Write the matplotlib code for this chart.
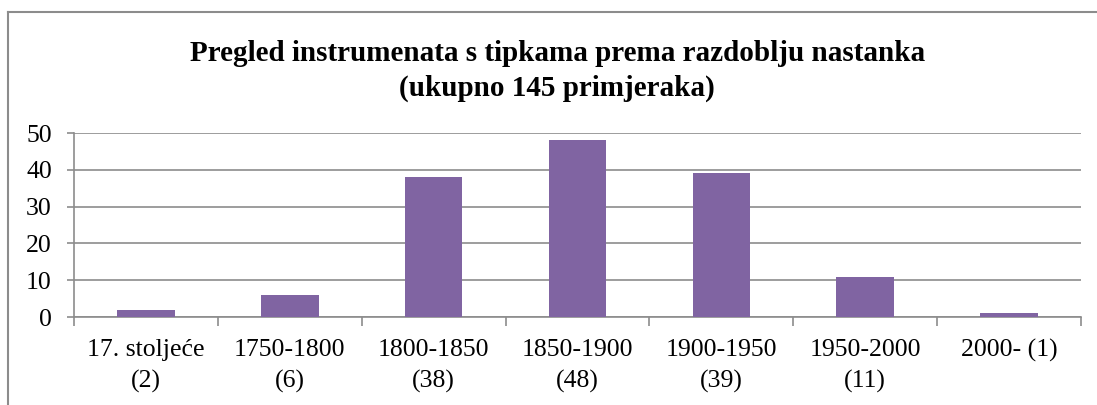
import matplotlib.pyplot as plt
from matplotlib.lines import Line2D

plt.rcParams['font.family'] = ['Liberation Serif', 'DejaVu Serif']

periods = ["17. stoljeće\n(2)", "1750-1800\n(6)", "1800-1850\n(38)", "1850-1900\n(48)",
           "1900-1950\n(39)", "1950-2000\n(11)", "2000- (1)"]
counts = [2, 6, 38, 48, 39, 11, 1]
yticks = [0, 10, 20, 30, 40, 50]

fig = plt.figure(figsize=(10.97, 4.05), dpi=100)
ax = fig.add_axes([74 / 1097, 1 - 317 / 405, (1081 - 74) / 1097, (317 - 133) / 405])

x = list(range(len(counts)))
ax.bar(x, counts, width=0.4, color="#8064A2", zorder=3)
ax.set_xlim(-0.5, len(counts) - 0.5)
ax.set_ylim(0, 50)
ax.set_yticks(yticks)
ax.set_yticklabels([str(v) for v in yticks], fontsize=18.5)
ax.yaxis.grid(True, color="#8c8c8c", linewidth=1.2, zorder=0)

# category labels centred, tick marks on the boundaries
ax.set_xticks(x)
ax.set_xticklabels(periods, fontsize=18.5, linespacing=1.5, va="top")
ax.tick_params(axis="x", which="major", length=0, pad=16)
ax.set_xticks([i - 0.5 for i in range(len(counts) + 1)], minor=True)
ax.tick_params(axis="x", which="minor", length=6.5, color="#8c8c8c", width=1.2)
ax.tick_params(axis="y", length=5, color="#8c8c8c", width=1.2, pad=11)

for s in ["top", "right"]:
    ax.spines[s].set_visible(False)
for s in ["left", "bottom"]:
    ax.spines[s].set_color("#8c8c8c")
    ax.spines[s].set_linewidth(1.2)

fig.text(0.508, 1 - 71 / 405, "Pregled instrumenata s tipkama prema razdoblju nastanka\n(ukupno 145 primjeraka)",
         ha="center", va="center", fontsize=21, fontweight="bold", linespacing=1.35)

# chart frame, cut off at right and bottom
fig.add_artist(Line2D([8 / 1097, 1], [1 - 12 / 405] * 2, color="#8c8c8c", linewidth=1.5))
fig.add_artist(Line2D([8 / 1097] * 2, [0, 1 - 12 / 405], color="#8c8c8c", linewidth=1.5))

fig.savefig("out.png", dpi=100)
